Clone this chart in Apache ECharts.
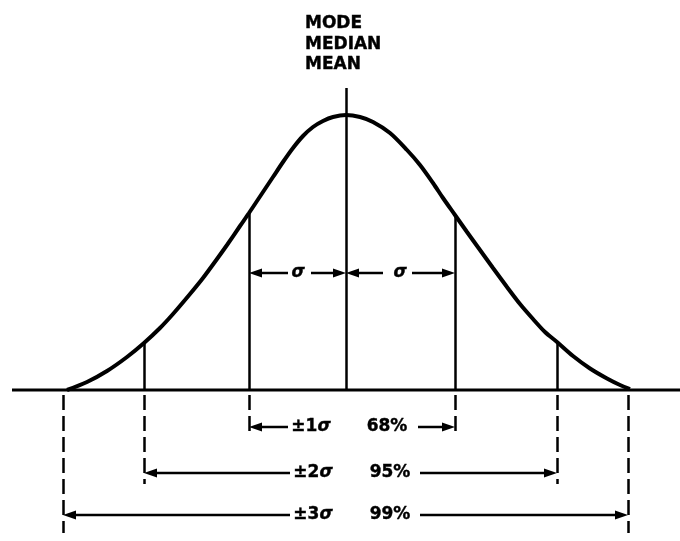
<!DOCTYPE html>
<html>
<head>
<meta charset="utf-8">
<script src="https://cdn.jsdelivr.net/npm/echarts@6/dist/echarts.min.js"></script>
<style>
html,body{margin:0;padding:0;background:#fff;}
#chart{width:680px;height:541px;}
</style>
</head>
<body>
<div id="chart"></div>
<script>
// x in units of ~sigma (mean at 0), y in curve-height units (baseline at 0)
const curveX = [-2.79,-2.59,-2.39,-2.19,-2.02,-1.86,-1.73,-1.56,-1.43,-1.29,-1.19,-1.06,-0.97,-0.83,-0.73,-0.63,-0.53,-0.43,-0.33,-0.23,-0.13,0,
                0.14,0.27,0.44,0.61,0.74,0.87,0.97,1.09,1.21,1.34,1.47,1.61,1.74,1.87,1.99,2.11,2.27,2.44,2.61,2.74,2.84];
const curveY = [0.00,0.08,0.19,0.33,0.47,0.62,0.76,0.96,1.12,1.31,1.45,1.64,1.77,1.98,2.13,2.28,2.42,2.54,2.63,2.69,2.73,2.75,
                2.73,2.68,2.57,2.40,2.25,2.07,1.92,1.75,1.58,1.40,1.22,1.03,0.86,0.71,0.58,0.48,0.34,0.215,0.115,0.05,0.01];

const baselineX = [-3.34, 3.34];
const meanX = 0;
const meanTop = 3.02;
// vertical marks: x, top of solid part (on curve), bottom of dashed part
const markX      = [-2.83, -2.02, -0.97, 1.09, 2.11, 2.82];
const markTop    = [0,      0.47,  1.77, 1.75, 0.48, 0];
const markBottom = [-1.43, -0.94, -0.47, -0.47, -0.94, -1.43];

// sigma arrows row
const sigmaRowY = 1.17;
const sigmaArrows = [[-0.58,-0.97],[-0.35,0],[0.37,0],[0.66,1.09]]; // [from, to(arrow tip)]
const sigmaLabelX = [-0.48, 0.54];

// interval rows
const rowY = [-0.37, -0.83, -1.25];
const rowLeft  = [[-0.58,-0.97],[-0.56,-2.02],[-0.56,-2.83]];
const rowRight = [[0.72,1.09],[0.74,2.11],[0.74,2.82]];
const rowSigmaLabel = ['±1', '±2', '±3'];
const rowPctLabel = ['68%', '95%', '99%'];
const rowSigmaX = [-0.35, -0.33, -0.33];
const rowPctX = [0.41, 0.44, 0.44];

const titleLines = ['MODE', 'MEDIAN', 'MEAN'];
const titleX = -0.41;
const titleY = [3.66, 3.45, 3.25];

const black = '#000';
const fontBold = {fontFamily:'DejaVu Sans', fontWeight:'bold', fontSize:17, color:black,
                  textBorderColor:black, textBorderWidth:0.4};

const solidSegs = [{coords:[[meanX,0],[meanX,meanTop]]}];
const dashSegs = [];
markX.forEach((x,i)=>{
  if (markTop[i] > 0) solidSegs.push({coords:[[x,0],[x,markTop[i]]]});
  dashSegs.push({coords:[[x,-0.05],[x,markBottom[i]]]});
});

const arrowData = [];
sigmaArrows.forEach(a=>arrowData.push([a[0],a[1],sigmaRowY]));
rowY.forEach((y,i)=>{
  arrowData.push([rowLeft[i][0],rowLeft[i][1],y]);
  arrowData.push([rowRight[i][0],rowRight[i][1],y]);
});

const textData = [];
sigmaLabelX.forEach(x=>textData.push({value:[x,sigmaRowY], name:'{i|σ}'}));
rowY.forEach((y,i)=>{
  textData.push({value:[rowSigmaX[i],y], name:'{b|'+rowSigmaLabel[i]+'}{i|σ}'});
  textData.push({value:[rowPctX[i],y], name:'{b|'+rowPctLabel[i]+'}'});
});

const titleData = titleLines.map((t,i)=>({value:[titleX,titleY[i]], name:t}));

function renderArrow(params, api) {
  const y = api.value(2);
  const p1 = api.coord([api.value(0), y]);
  const p2 = api.coord([api.value(1), y]);
  const dir = p2[0] > p1[0] ? 1 : -1;
  const L = 13, W = 4.5;
  const base = p2[0] - dir * L;
  return {type:'group', children:[
    {type:'line', shape:{x1:p1[0], y1:p1[1], x2:base + dir*2, y2:p2[1]}, style:{stroke:black, lineWidth:2.5}},
    {type:'polygon', shape:{points:[[p2[0],p2[1]],[base,p2[1]-W],[base,p2[1]+W]]}, style:{fill:black}}
  ]};
}

const chart = echarts.init(document.getElementById('chart'), null, {renderer:'canvas'});
chart.setOption({
  animation:false,
  backgroundColor:'#fff',
  grid:{left:0,right:0,top:0,bottom:0,containLabel:false},
  xAxis:{type:'value',min:-3.46,max:3.34,show:false},
  yAxis:{type:'value',min:-1.51,max:3.90,show:false},
  series:[
    {type:'line', data:curveX.map((x,i)=>[x,curveY[i]]), smooth:0.3, showSymbol:false,
     lineStyle:{color:black,width:4}, z:5},
    {type:'line', data:baselineX.map(x=>[x,0]), showSymbol:false,
     lineStyle:{color:black,width:3}},
    {type:'lines', coordinateSystem:'cartesian2d', data:solidSegs, symbol:'none',
     lineStyle:{color:black,width:2.5,opacity:1}},
    {type:'lines', coordinateSystem:'cartesian2d', data:dashSegs, symbol:'none',
     lineStyle:{color:black,width:2.5,type:[15,6],opacity:1}},
    {type:'custom', data:arrowData, renderItem:renderArrow, encode:{x:[0,1], y:2}, clip:false, silent:true},
    {type:'scatter', data:textData, symbolSize:0, silent:true, itemStyle:{opacity:1, color:black},
     label:{show:true, position:'inside', formatter:p=>p.name, align:'center', verticalAlign:'middle',
       color:black, opacity:1,
       rich:{
         b:Object.assign({},fontBold),
         i:Object.assign({},fontBold,{fontStyle:'italic'})
       }}},
    {type:'scatter', data:titleData, symbolSize:0, silent:true, itemStyle:{opacity:1, color:black},
     label:{show:true, position:[0,0], formatter:p=>p.name, align:'left', verticalAlign:'middle', opacity:1,
       fontFamily:'DejaVu Sans', fontWeight:'bold', fontSize:17, color:black,
       textBorderColor:black, textBorderWidth:0.4}}
  ]
});
</script>
</body>
</html>
